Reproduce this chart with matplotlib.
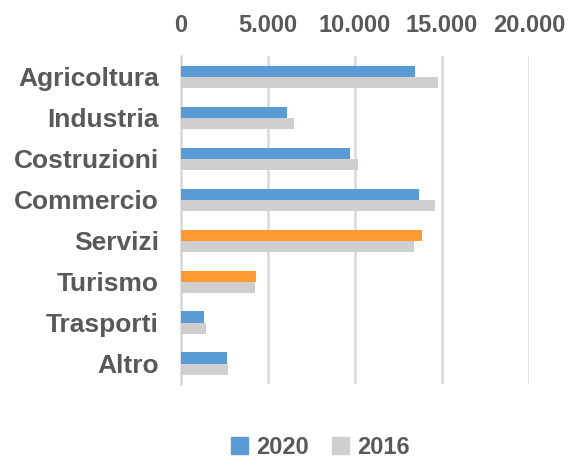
import numpy as np
import matplotlib
matplotlib.use('Agg')
import matplotlib.pyplot as plt
from matplotlib.ticker import FuncFormatter
from matplotlib.patches import Patch

categories = ['Agricoltura', 'Industria', 'Costruzioni', 'Commercio',
              'Servizi', 'Turismo', 'Trasporti', 'Altro']
values_2020 = [13450, 6100, 9730, 13650, 13850, 4300, 1340, 2650]
values_2016 = [14750, 6500, 10150, 14600, 13400, 4250, 1420, 2680]
highlight = ['Servizi', 'Turismo']
x_ticks = [0, 5000, 10000, 15000, 20000]

BLUE = '#5B9BD5'
GRAY = '#D0CECE'
ORANGE = '#FF9933'
TEXT = '#595959'

plt.rcParams['font.family'] = 'Liberation Sans'
plt.rcParams['font.weight'] = 'bold'

fig = plt.figure(figsize=(5.69, 4.61), dpi=100)
ax = fig.add_axes([0.318, 0.167, 0.612, 0.711])

y = np.arange(len(categories))
h = 0.27
colors_2020 = [ORANGE if c in highlight else BLUE for c in categories]
ax.barh(y - h / 2, values_2020, height=h, color=colors_2020, zorder=3)
ax.barh(y + h / 2, values_2016, height=h, color=GRAY, zorder=3)

ax.set_xlim(0, 20000)
ax.set_ylim(len(categories) - 0.5, -0.5)
ax.set_xticks(x_ticks)
ax.xaxis.set_major_formatter(FuncFormatter(lambda v, p: f'{int(v):,}'.replace(',', '.')))
ax.xaxis.tick_top()
ax.tick_params(axis='x', length=0, pad=14, labelsize=17, labelcolor=TEXT)
ax.set_yticks(y)
ax.set_yticklabels(categories, fontweight='bold')
ax.tick_params(axis='y', length=0, pad=16, labelsize=19, labelcolor=TEXT)

ax.grid(axis='x', color='#D9D9D9', linewidth=1.8, zorder=0)
for side in ['top', 'right', 'bottom']:
    ax.spines[side].set_visible(False)
ax.spines['left'].set_color('#D9D9D9')
ax.spines['left'].set_linewidth(1.8)

handles = [Patch(color=BLUE, label='2020'), Patch(color=GRAY, label='2016')]
leg = fig.legend(handles=handles, loc='center', bbox_to_anchor=(0.563, 0.03), ncol=2,
                 frameon=False, handlelength=0.7, handleheight=0.7, handletextpad=0.35,
                 columnspacing=1.0, borderpad=0,
                 prop={'family': 'Liberation Sans', 'weight': 'bold', 'size': 17})
for t in leg.get_texts():
    t.set_color(TEXT)

plt.savefig('out.png', dpi=100)
